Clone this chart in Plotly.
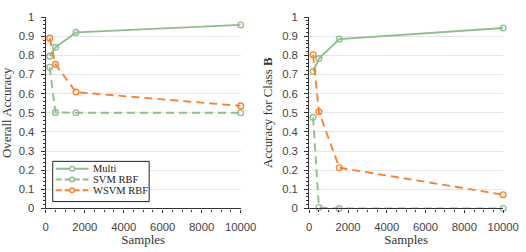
import plotly.graph_objects as go

samples = [200, 500, 1550, 10000]

overall_multi = [0.796, 0.842, 0.920, 0.959]
overall_svm = [0.738, 0.502, 0.500, 0.500]
overall_wsvm = [0.890, 0.753, 0.608, 0.536]

classb_multi = [0.717, 0.783, 0.885, 0.943]
classb_svm = [0.476, 0.005, 0.0, 0.0]
classb_wsvm = [0.803, 0.505, 0.213, 0.072]

series_names = ["Multi", "SVM RBF", "WSVM RBF"]
y_ticks = [0, 0.1, 0.2, 0.3, 0.4, 0.5, 0.6, 0.7, 0.8, 0.9, 1]
x_ticks = [0, 2000, 4000, 6000, 8000, 10000]

GREEN = "#8cbf8a"
ORANGE = "#ff7f2a"
styles = [(GREEN, "solid"), (GREEN, "dash"), (ORANGE, "dash")]

# the page is captured slightly scaled; lay out in target-picture fractions
S = 0.9705
W, H = 542, 252
YOFF = 3.7


def px(x):
    return x / (S * W)


def py(y):
    return 1 - (y - YOFF) / (S * H)


def dash_of(d):
    return "8px,5px" if d == "dash" else "solid"


fig = go.Figure()

for panel, data in enumerate([(overall_multi, overall_svm, overall_wsvm),
                              (classb_multi, classb_svm, classb_wsvm)]):
    xa = "x" if panel == 0 else "x2"
    ya = "y" if panel == 0 else "y2"
    for name, vals, (col, dash) in zip(series_names, data, styles):
        fig.add_trace(go.Scatter(
            x=samples, y=vals, name=name, mode="lines+markers",
            line=dict(color=col, width=1.85, dash=dash_of(dash)),
            marker=dict(symbol="circle-open", size=5.7, color=col, line=dict(width=1.35, color=col)),
            xaxis=xa, yaxis=ya, showlegend=False, cliponaxis=False,
        ))

tick_font = dict(family="Liberation Sans, Arial", size=11.3, color="#444444")
serif = "Liberation Serif, Times New Roman, serif"
title_font = dict(family=serif, size=12.9, color="#333333")


def xaxis(domain, anchor):
    return dict(domain=domain, anchor=anchor, range=[0, 10000], tickvals=x_ticks,
                ticktext=[str(v) for v in x_ticks], showgrid=False, zeroline=False,
                showline=True, linecolor="#333333", linewidth=1.2,
                ticks="outside", ticklen=3, tickcolor="#333333", tickfont=tick_font,
                ticklabelstandoff=5,
                minor=dict(dtick=500, ticks="outside", ticklen=2, tickcolor="#333333"),
                title=dict(text="Samples", font=title_font, standoff=2))


def yaxis(anchor, title, title_gap):
    return dict(domain=[py(210), py(15)], anchor=anchor, range=[0, 1], tickvals=y_ticks,
                ticktext=[("%g" % v) for v in y_ticks], showgrid=True, gridcolor="#e6e6e6",
                gridwidth=1, zeroline=False, showline=True, linecolor="#333333", linewidth=1.2,
                ticks="outside", ticklen=4, tickcolor="#333333", tickfont=tick_font,
                ticklabelstandoff=4,
                minor=dict(dtick=0.02, ticks="outside", ticklen=2, tickcolor="#333333", showgrid=False),
                title=dict(text=title, font=title_font, standoff=title_gap))


shapes = [dict(type="rect", xref="paper", yref="paper", x0=px(50), x1=px(147), y0=py(162), y1=py(203),
               line=dict(color="#222222", width=1), fillcolor="white", layer="above")]
annotations = []
item_y = [169.5, 180.5, 191.5]
for name, (col, dash), yy in zip(series_names, styles, item_y):
    shapes.append(dict(type="line", xref="paper", yref="paper", x0=px(53), x1=px(86), y0=py(yy), y1=py(yy),
                       line=dict(color=col, width=1.85, dash="solid" if dash == "solid" else "6px,3px"),
                       layer="above"))
    shapes.append(dict(type="circle", xref="paper", yref="paper", xsizemode="pixel", ysizemode="pixel",
                       xanchor=px(69.5), yanchor=py(yy), x0=-2.3, x1=2.3, y0=-2.3, y1=2.3,
                       line=dict(color=col, width=1.35), fillcolor="white", layer="above"))
    annotations.append(dict(xref="paper", yref="paper", x=px(88.5), y=py(yy), text=name, showarrow=False,
                            xanchor="left", yanchor="middle",
                            font=dict(family=serif, size=10.5, color="#222222")))

fig.update_layout(
    width=W, height=H, autosize=False,
    margin=dict(l=0, r=0, t=0, b=0),
    plot_bgcolor="white", paper_bgcolor="white",
    xaxis=xaxis([px(43), px(239)], "y"),
    yaxis=yaxis("x", "Overall Accuracy", 4),
    xaxis2=xaxis([px(308), px(503)], "y2"),
    yaxis2=yaxis("x2", "Accuracy for Class <b>B</b>", 6),
    shapes=shapes, annotations=annotations, showlegend=False,
)

fig.write_html("out.html", config={"displayModeBar": False, "responsive": False},
               post_script="document.documentElement.style.overflow='hidden';"
                           "document.body.style.margin='0';document.body.style.overflow='hidden';")
